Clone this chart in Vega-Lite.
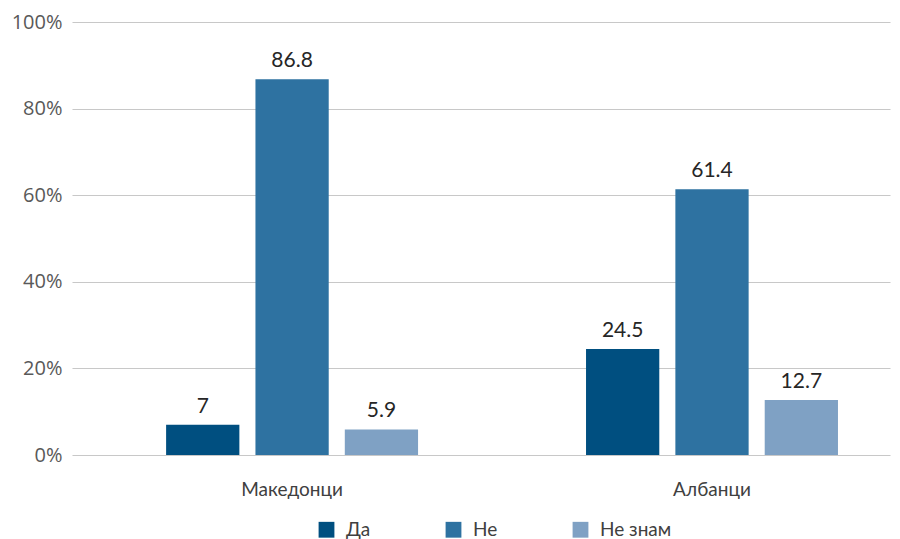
{
  "$schema": "https://vega.github.io/schema/vega-lite/v6.json",
  "width": 818,
  "height": 433,
  "autosize": "none",
  "padding": {"left": 72, "top": 22, "right": 10, "bottom": 84},
  "background": "white",
  "data": {
    "values": [
      {"group": "Македонци", "answer": "Да", "value": 7},
      {"group": "Македонци", "answer": "Не", "value": 86.8},
      {"group": "Македонци", "answer": "Не знам", "value": 5.9},
      {"group": "Албанци", "answer": "Да", "value": 24.5},
      {"group": "Албанци", "answer": "Не", "value": 61.4},
      {"group": "Албанци", "answer": "Не знам", "value": 12.7}
    ]
  },
  "config": {
    "view": {"stroke": null},
    "font": "Open Sans"
  },
  "encoding": {
    "x": {
      "field": "group",
      "type": "nominal",
      "sort": ["Македонци", "Албанци"],
      "scale": {"paddingInner": 0.4, "paddingOuter": 0.174, "align": 0.644},
      "axis": {
        "title": null,
        "labelAngle": 0,
        "domain": false,
        "ticks": false,
        "labelPadding": 25,
        "labelFontSize": 19,
        "labelColor": "#404040",
        "labelFont": "Lato"
      }
    },
    "xOffset": {
      "field": "answer",
      "type": "nominal",
      "sort": ["Да", "Не", "Не знам"],
      "scale": {"paddingInner": 0.18, "paddingOuter": 0}
    },
    "y": {
      "field": "value",
      "type": "quantitative",
      "scale": {"domain": [0, 100], "nice": false},
      "axis": {
        "title": null,
        "values": [0, 20, 40, 60, 80, 100],
        "labelExpr": "datum.value + '%'",
        "domain": false,
        "ticks": false,
        "labelPadding": 10,
        "labelFontSize": 20,
        "labelColor": "#595959",
        "gridColor": "#c8c8c8",
        "gridWidth": 1.2
      }
    }
  },
  "layer": [
    {
      "mark": {"type": "bar"},
      "encoding": {
        "color": {
          "field": "answer",
          "type": "nominal",
          "sort": ["Да", "Не", "Не знам"],
          "scale": {"domain": ["Да", "Не", "Не знам"], "range": ["#004f80", "#2e72a1", "#7fa1c4"]},
          "legend": {
            "title": null,
            "orient": "none",
            "legendX": 245,
            "legendY": 498,
            "direction": "horizontal",
            "columns": 3,
            "gridAlign": "all",
            "columnPadding": 26,
            "symbolType": "square",
            "symbolSize": 250,
            "symbolStrokeWidth": 0,
            "labelFontSize": 19,
            "labelColor": "#404040",
            "labelFont": "Lato",
            "labelOffset": 10
          }
        }
      }
    },
    {
      "mark": {"type": "text", "baseline": "bottom", "dy": -8, "fontSize": 21, "color": "#262626", "font": "Lato"},
      "encoding": {
        "text": {"field": "value", "type": "quantitative"}
      }
    }
  ]
}
